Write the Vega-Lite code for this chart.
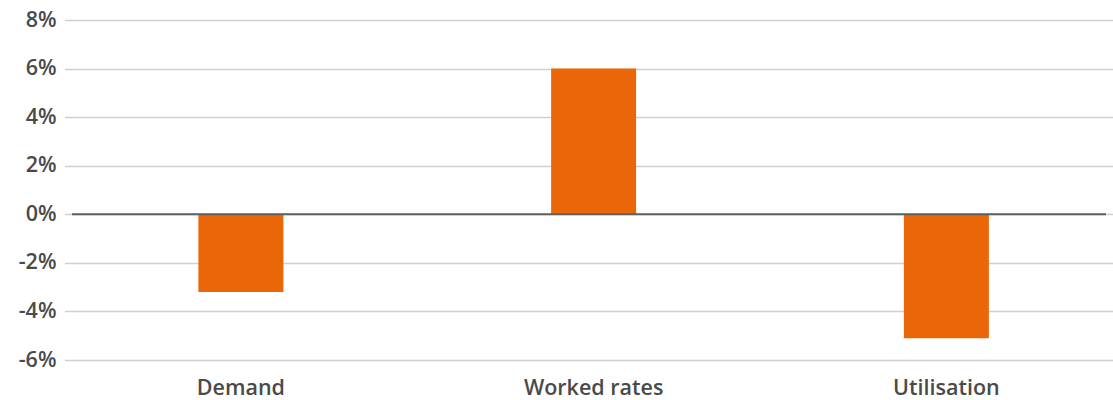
{
  "$schema": "https://vega.github.io/schema/vega-lite/v6.json",
  "width": 1034,
  "height": 340,
  "autosize": {"type": "none"},
  "padding": {"left": 72, "top": 20, "right": 7, "bottom": 40},
  "background": "white",
  "config": {
    "view": {"stroke": null},
    "font": "Open Sans"
  },
  "data": {
    "values": [
      {"category": "Demand", "change": -3.2},
      {"category": "Worked rates", "change": 6.0},
      {"category": "Utilisation", "change": -5.1}
    ]
  },
  "layer": [
    {
      "mark": {"type": "bar", "color": "#EB6608", "width": 85},
      "encoding": {
        "x": {
          "field": "category",
          "type": "nominal",
          "sort": null,
          "scale": {"paddingInner": 0, "paddingOuter": 0, "range": [-7.5, 1050.75]},
          "axis": {
            "title": null,
            "domain": false,
            "ticks": false,
            "labelAngle": 0,
            "labelFont": "Open Sans",
            "labelFontSize": 21.5,
            "labelFontWeight": 600,
            "labelColor": "#4a4a4a",
            "labelPadding": 17
          }
        },
        "y": {
          "field": "change",
          "type": "quantitative",
          "scale": {"domain": [-6, 8], "nice": false, "zero": false},
          "axis": {
            "title": null,
            "values": [-6, -4, -2, 0, 2, 4, 6, 8],
            "labelExpr": "datum.value + '%'",
            "domain": false,
            "ticks": false,
            "labelFont": "Open Sans",
            "labelFontSize": 21.5,
            "labelFontWeight": 600,
            "labelColor": "#4a4a4a",
            "labelPadding": 16,
            "gridColor": "#d0d0d0",
            "gridWidth": 1.5
          }
        }
      }
    },
    {
      "data": {"values": [{"zero": 0}]},
      "mark": {"type": "rule", "color": "#5f5f5f", "strokeWidth": 2},
      "encoding": {
        "y": {"field": "zero", "type": "quantitative"}
      }
    }
  ]
}
